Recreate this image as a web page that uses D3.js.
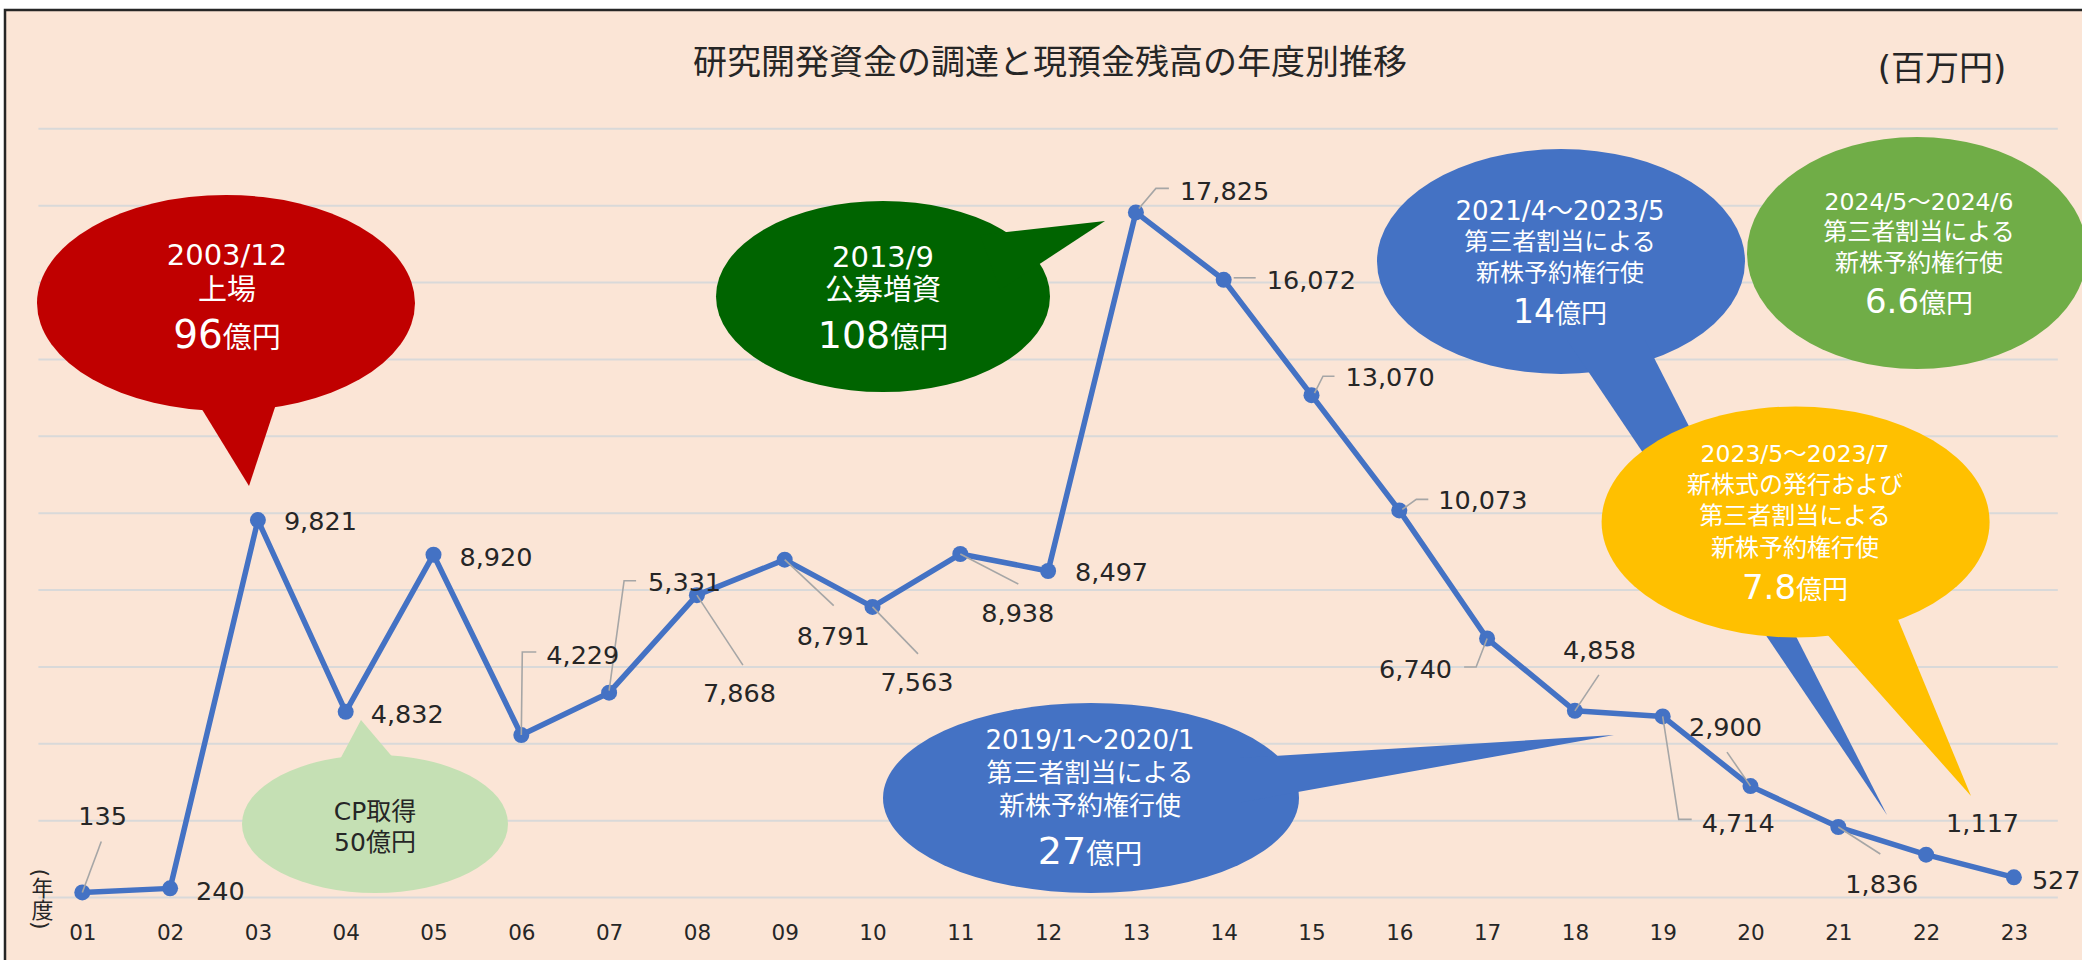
<!DOCTYPE html>
<html><head><meta charset="utf-8">
<script src="https://cdn.jsdelivr.net/npm/d3@7"></script>
<style>
html,body{margin:0;padding:0;background:#fff;}
svg{display:block;}
text{font-family:'DejaVu Sans','Noto Sans CJK JP',sans-serif;}
</style></head><body>
<svg id="chart" width="2082" height="960"></svg>
<script>
// ---------- data ----------
const years = ["01","02","03","04","05","06","07","08","09","10","11","12","13","14","15","16","17","18","19","20","21","22","23"];
const cash = [135,240,9821,4832,8920,4229,5331,7868,8791,7563,8938,8497,17825,16072,13070,10073,6740,4858,4714,2900,1836,1117,527];
const yTicks = [0,2000,4000,6000,8000,10000,12000,14000,16000,18000,20000];
const titleText = "研究開発資金の調達と現預金残高の年度別推移";
const unitText = "(百万円)";
const axisTitleText = "(年度)";

// callout texts
const calloutLines = [
  ["2003/12","上場"],
  ["2013/9","公募増資"],
  ["CP取得","50億円"],
  ["2019/1～2020/1","第三者割当による","新株予約権行使"],
  ["2021/4～2023/5","第三者割当による","新株予約権行使"],
  ["2024/5～2024/6","第三者割当による","新株予約権行使"],
  ["2023/5～2023/7","新株式の発行および","第三者割当による","新株予約権行使"]
];
const calloutAmounts = ["96","108",null,"27","14","6.6","7.8"];
const calloutUnit = "億円";

// ---------- layout (positions / styles) ----------
const W = 2082, H = 960;
const plotLeft = 38.4, plotRight = 2057.8, plotTop = 128.8, plotBottom = 897.6;

const calloutLayout = [
  {fill:"#C00000", color:"#fff", e:[226,303,189,108], tail:[[184,380],[249,486],[284,380]], tx:227,
   ly:[255,290], ls:[29,29], ab:348, ns:39, us:29},
  {fill:"#006400", color:"#fff", e:[883,296.5,167,95.5], tail:[[980,235],[1105,221],[1000,290]], tx:883,
   ly:[257,290], ls:[29,29], ab:348, ns:38, us:29},
  {fill:"#C5E0B4", color:"#262626", e:[375,824,133,69], tail:[[329,780],[361,720],[412,780]], tx:375,
   ly:[811,842], ls:[25,25]},
  {fill:"#4472C4", color:"#fff", e:[1091,798,208,95], tail:[[1240,758],[1614,735],[1240,802.5]], tx:1090,
   ly:[740,773,806], ls:[26,26,26], ab:864, ns:38, us:28},
  {fill:"#4472C4", color:"#fff", e:[1561,261.5,184,112.5], tail:[[1567,340],[1887,815],[1645,340]], tx:1560,
   ly:[211,242,273], ls:[26,24,24], ab:323, ns:33, us:26},
  {fill:"#70AD47", color:"#fff", e:[1917,253,170,116], tail:null, tx:1919,
   ly:[202,232,263], ls:[23.5,24,24], ab:313, ns:34, us:27},
  {fill:"#FFC000", color:"#fff", e:[1795.6,522,194,115.5], tail:[[1796.6,600],[1971,796],[1890,600]], tx:1795,
   ly:[454,485,516,548], ls:[23.5,24,24,24], ab:599, ns:34, us:26}
];

// data label offsets relative to point: [dx, dy, anchor]
const labelOffsets = [
  [-4,-76,"start"],[26,3,"start"],[26,1,"start"],[25,2,"start"],[26,2,"start"],
  [25,-80,"start"],[39,-111,"start"],[6,98,"start"],[12,76,"start"],[8,75,"start"],
  [21,58.5,"start"],[27,1.5,"start"],[44,-21,"start"],[43,0,"start"],[34,-18,"start"],
  [39,-10,"start"],[-35,30,"end"],[-12,-61,"start"],[39,107,"start"],[-61.5,-59,"start"],
  [7,57,"start"],[20,-32,"start"],[18,3,"start"]
];
// leader lines relative to point (null = none)
const leaders = [
  [[0,0],[19,-51]], null, null, null, null,
  [[0,0],[1,-83],[15,-83]], [[0,-2],[15,-112],[27,-112]], [[0,0],[46,70]], [[0,0],[49,46]], [[0,0],[45.5,47]],
  [[0,0],[58,30]], null, [[3,-4],[20,-24],[33,-24]], [[10,-2],[32,-2]], [[3,-2],[11.5,-19],[23,-19]],
  [[3,-1],[17,-11],[29,-11]], [[0,0],[-11,28.5],[-23,28.5]], [[0,0],[24,-36]], [[0,0],[16,103],[29,103]], [[-23.5,-34],[0,0]],
  [[0,0],[42,27]], null, null
];

const svg = d3.select("#chart");

// frame
svg.append("rect").attr("x",0).attr("y",0).attr("width",W).attr("height",H).attr("fill","#fff");
svg.append("rect").attr("x",5).attr("y",10).attr("width",W+20).attr("height",H+20)
  .attr("fill","#FBE5D6").attr("stroke","#262626").attr("stroke-width",2.5);

const x = d3.scalePoint().domain(years).range([plotLeft, plotRight]).padding(0.5);
const y = d3.scaleLinear().domain([0,20000]).range([plotBottom, plotTop]);

// gridlines
svg.append("g").selectAll("line").data(yTicks).join("line")
  .attr("x1",plotLeft).attr("x2",plotRight)
  .attr("y1",d=>y(d)).attr("y2",d=>y(d))
  .attr("stroke","#D9D9D9").attr("stroke-width",2);

// x axis labels
const xAxis = d3.axisBottom(x).tickSize(0).tickPadding(0);
const gx = svg.append("g").attr("transform",`translate(0,${plotBottom})`).call(xAxis);
gx.select(".domain").remove();
gx.selectAll("text").attr("y",35).attr("dy",0).attr("dominant-baseline","central")
  .attr("font-size",21.5).attr("fill","#262626")
  .style("font-family","'DejaVu Sans','Noto Sans CJK JP',sans-serif");

// axis title (vertical)
svg.append("text").attr("x",40).attr("y",899)
  .attr("text-anchor","middle").style("writing-mode","vertical-rl")
  .attr("font-size",22).attr("fill","#262626").text(axisTitleText);

// line
const data = years.map((d,i)=>({year:d, v:cash[i], i}));
svg.append("path").datum(data)
  .attr("d", d3.line().x(d=>x(d.year)).y(d=>y(d.v)))
  .attr("fill","none").attr("stroke","#4472C4").attr("stroke-width",5.5).attr("stroke-linejoin","round");
svg.append("g").selectAll("circle").data(data).join("circle")
  .attr("cx",d=>x(d.year)).attr("cy",d=>y(d.v)).attr("r",8).attr("fill","#4472C4");

// leaders
svg.append("g").selectAll("polyline").data(data.filter(d=>leaders[d.i]))
  .join("polyline")
  .attr("points",d=>leaders[d.i].map(p=>[x(d.year)+p[0], y(d.v)+p[1]].join(",")).join(" "))
  .attr("fill","none").attr("stroke","#A6A6A6").attr("stroke-width",1.6);

// data labels
const fmt = d3.format(",");
svg.append("g").selectAll("text").data(data).join("text")
  .attr("x",d=>x(d.year)+labelOffsets[d.i][0])
  .attr("y",d=>y(d.v)+labelOffsets[d.i][1])
  .attr("text-anchor",d=>labelOffsets[d.i][2])
  .attr("dominant-baseline","central")
  .attr("font-size",25.5).attr("fill","#262626")
  .text(d=>fmt(d.v));

// callouts
calloutLayout.forEach((c,k)=>{
  const g = svg.append("g");
  g.append("ellipse").attr("cx",c.e[0]).attr("cy",c.e[1]).attr("rx",c.e[2]).attr("ry",c.e[3]).attr("fill",c.fill);
  if (c.tail) g.append("polygon").attr("points",c.tail.map(p=>p.join(",")).join(" ")).attr("fill",c.fill);
  calloutLines[k].forEach((t,j)=>{
    g.append("text").attr("x",c.tx).attr("y",c.ly[j]).attr("text-anchor","middle")
      .attr("dominant-baseline","central").attr("font-size",c.ls[j]).attr("fill",c.color).text(t);
  });
  if (calloutAmounts[k]) {
    const t = g.append("text").attr("x",c.tx).attr("y",c.ab).attr("text-anchor","middle").attr("fill",c.color);
    t.append("tspan").attr("font-size",c.ns).text(calloutAmounts[k]);
    t.append("tspan").attr("font-size",c.us).text(calloutUnit);
  }
});

// title and unit
svg.append("text").attr("x",1050).attr("y",62).attr("text-anchor","middle").attr("dominant-baseline","central")
  .attr("font-size",34).attr("fill","#262626").text(titleText);
svg.append("text").attr("x",1942).attr("y",68).attr("text-anchor","middle").attr("dominant-baseline","central")
  .attr("font-size",34).attr("fill","#262626").text(unitText);
</script>
</body></html>
